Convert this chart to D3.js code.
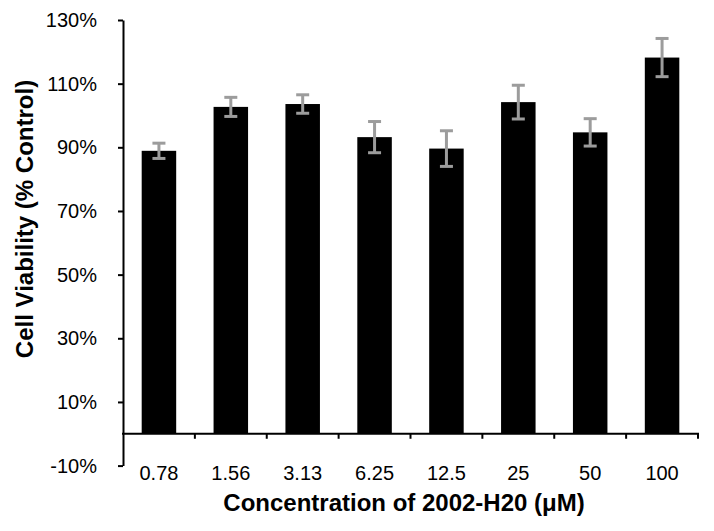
<!DOCTYPE html>
<html>
<head>
<meta charset="utf-8">
<script src="https://cdn.jsdelivr.net/npm/d3@7"></script>
<style>
html,body{margin:0;padding:0;background:#fff;}
svg{display:block;}
text{font-family:Helvetica, Arial, "Liberation Sans", sans-serif;fill:#000;}
</style>
</head>
<body>
<script>
const categories = ["0.78","1.56","3.13","6.25","12.5","25","50","100"];
const viability = [88.9,102.7,103.6,93.2,89.6,104.2,94.7,118.2];
const errors = [2.4,3.0,2.9,4.9,5.6,5.3,4.3,6.0];
const yTicks = [-10,10,30,50,70,90,110,130];
const xTitle = "Concentration of 2002-H20 (μM)";
const yTitle = "Cell Viability (% Control)";

const W = 714, H = 531;
const svg = d3.select("body").append("svg").attr("width", W).attr("height", H);

const mLeft = 123, mRight = 698, mTop = 20, mBottom = 465.6;

const y = d3.scaleLinear().domain([-10, 130]).range([mBottom, mTop]);
const x = d3.scaleBand().domain(categories).range([mLeft, mRight])
  .paddingInner(0.52).paddingOuter(0.26);

// bars
svg.append("g").selectAll("rect").data(categories).join("rect")
  .attr("x", d => x(d))
  .attr("width", x.bandwidth())
  .attr("y", (d, i) => y(viability[i]))
  .attr("height", (d, i) => y(0) - y(viability[i]))
  .attr("fill", "#000");

// error bars
const eg = svg.append("g").attr("stroke", "#9c9c9c").attr("stroke-width", 3);
categories.forEach((c, i) => {
  const cx = x(c) + x.bandwidth() / 2;
  const hi = y(viability[i] + errors[i]), lo = y(viability[i] - errors[i]);
  eg.append("line").attr("x1", cx).attr("x2", cx).attr("y1", hi).attr("y2", lo);
  eg.append("line").attr("x1", cx - 6.5).attr("x2", cx + 6.5).attr("y1", hi).attr("y2", hi);
  eg.append("line").attr("x1", cx - 6.5).attr("x2", cx + 6.5).attr("y1", lo).attr("y2", lo);
});

// y axis
const yAxis = d3.axisLeft(y).tickValues(yTicks).tickSize(5).tickSizeOuter(0)
  .tickPadding(21).tickFormat(d => d + "%");
const gy = svg.append("g").attr("transform", `translate(${mLeft},0)`).call(yAxis);
gy.select(".domain").attr("stroke", "#000").attr("stroke-width", 2);
gy.selectAll(".tick line").attr("stroke", "#000").attr("stroke-width", 2);
gy.selectAll(".tick text").style("font-size", "20px").attr("fill", "#111");

// x axis line at zero
const y0 = y(0);
svg.append("line").attr("x1", mLeft - 1).attr("x2", mRight + 1).attr("y1", y0).attr("y2", y0)
  .attr("stroke", "#000").attr("stroke-width", 2);
// boundary ticks
svg.append("g").selectAll("line").data(d3.range(1, categories.length + 1)).join("line")
  .attr("x1", i => mLeft + i * x.step()).attr("x2", i => mLeft + i * x.step())
  .attr("y1", y0).attr("y2", y0 + 5)
  .attr("stroke", "#000").attr("stroke-width", 2);
// category labels
svg.append("g").selectAll("text").data(categories).join("text")
  .attr("x", d => x(d) + x.bandwidth() / 2)
  .attr("y", 480)
  .attr("text-anchor", "middle")
  .style("font-size", "20px").attr("fill", "#111")
  .text(d => d);

// titles
svg.append("text").attr("x", 404).attr("y", 511)
  .attr("text-anchor", "middle").style("font-size", "24px").style("font-weight", "bold")
  .text(xTitle);
svg.append("text").attr("transform", "translate(33,219) rotate(-90)")
  .attr("text-anchor", "middle").style("font-size", "24px").style("font-weight", "bold")
  .text(yTitle);
</script>
</body>
</html>
